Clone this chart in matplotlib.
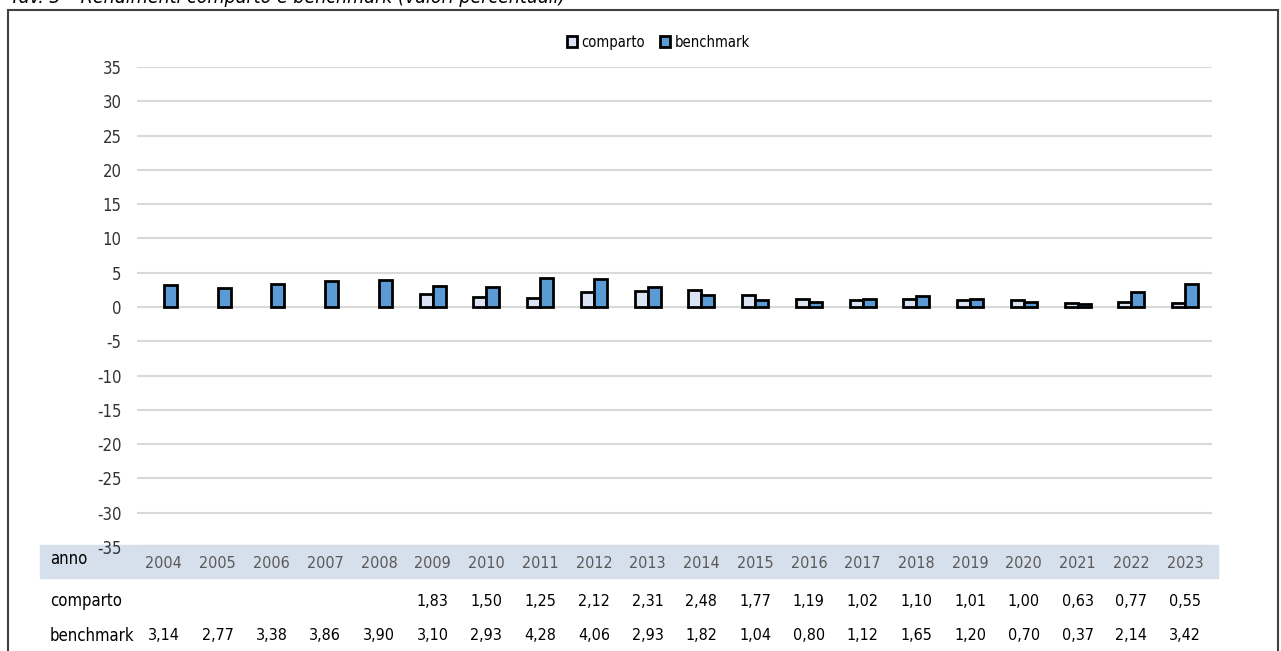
import numpy as np
import matplotlib.pyplot as plt
from matplotlib.patches import Rectangle

plt.rcParams['font.family'] = ['Liberation Sans Narrow', 'DejaVu Sans']
plt.rcParams['font.stretch'] = 'condensed'
plt.rcParams['axes.unicode_minus'] = False

# data
anni = [2004, 2005, 2006, 2007, 2008, 2009, 2010, 2011, 2012, 2013,
        2014, 2015, 2016, 2017, 2018, 2019, 2020, 2021, 2022, 2023]
comparto = [np.nan, np.nan, np.nan, np.nan, np.nan, 1.83, 1.50, 1.25, 2.12, 2.31,
            2.48, 1.77, 1.19, 1.02, 1.10, 1.01, 1.00, 0.63, 0.77, 0.55]
benchmark = [3.14, 2.77, 3.38, 3.86, 3.90, 3.10, 2.93, 4.28, 4.06, 2.93,
             1.82, 1.04, 0.80, 1.12, 1.65, 1.20, 0.70, 0.37, 2.14, 3.42]

fig = plt.figure(figsize=(12.81, 6.51), dpi=100)
ax = fig.add_axes([137 / 1281, 1 - 547 / 651, 1075 / 1281, 480 / 651])
ax.patch.set_visible(False)

x = np.arange(len(anni))
w = 0.24
ax.bar(x - w / 2, comparto, w, color='#DAE3F3', edgecolor='black', linewidth=2,
       label='comparto', zorder=3)
ax.bar(x + w / 2, benchmark, w, color='#5B9BD5', edgecolor='black', linewidth=2,
       label='benchmark', zorder=3)

ax.set_xlim(-0.5, len(anni) - 0.5)
ax.set_ylim(-35, 35)
ax.set_yticks(range(-35, 36, 5))
ax.set_xticks([])
ax.tick_params(axis='y', length=0, pad=11, labelsize=12, labelcolor='#333333')
for s in ax.spines.values():
    s.set_visible(False)
ax.grid(True, axis='y', color='#D9D9D9', linewidth=1.5, zorder=0)

# outer frame and (cut off) title
fig.patches.append(Rectangle((8 / 1281, -0.1), 1270 / 1281, 1.1 - 10 / 651,
                             transform=fig.transFigure, fill=False,
                             edgecolor='#404040', linewidth=1.5))
fig.text(0.008, 1 - 3 / 651, 'Tav. 3 \u2013 Rendimenti comparto e benchmark (valori percentuali)',
         fontsize=14, style='italic', va='baseline', ha='left', color='black')

# table under the plot
fig.patches.append(Rectangle((40 / 1281, 1 - 578 / 651), 1178 / 1281, 33 / 651,
                             transform=fig.transFigure, color='#D6DFEC', zorder=-1))
tr = ax.get_xaxis_transform()
y_anno = (547 - 563) / 480
y_comp = (547 - 601) / 480
y_bench = (547 - 636) / 480
fig.text(50 / 1281, 1 - 559 / 651, 'anno', fontsize=12, va='center', color='black')
fig.text(50 / 1281, 1 - 601 / 651, 'comparto', fontsize=12, va='center', color='black')
fig.text(50 / 1281, 1 - 636 / 651, 'benchmark', fontsize=12, va='center', color='black')


def fmt(v):
    return '' if np.isnan(v) else f'{v:.2f}'.replace('.', ',')


for i in x:
    ax.text(i, y_anno, str(anni[i]), transform=tr, ha='center', va='center',
            fontsize=11.5, color='#595959', clip_on=False)
    ax.text(i, y_comp, fmt(comparto[i]), transform=tr, ha='center', va='center',
            fontsize=11.5, color='black', clip_on=False)
    ax.text(i, y_bench, fmt(benchmark[i]), transform=tr, ha='center', va='center',
            fontsize=11.5, color='black', clip_on=False)

ax.legend(loc='center', bbox_to_anchor=(0.485, 1.052), ncol=2, frameon=False,
          fontsize=10.5, handlelength=0.7, handleheight=0.7, handletextpad=0.3,
          columnspacing=1.0)

fig.savefig('out.png', dpi=100)
